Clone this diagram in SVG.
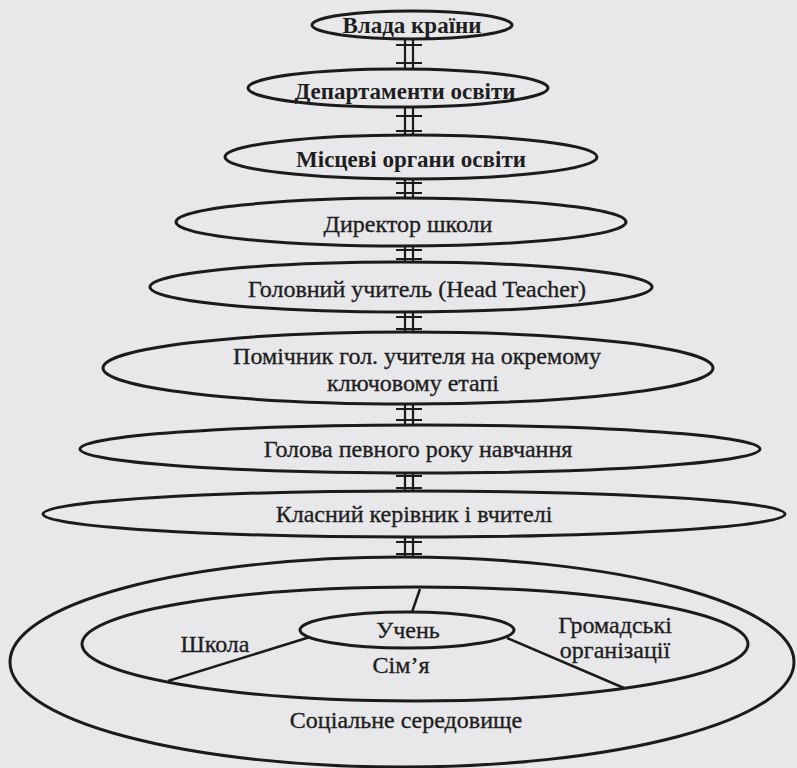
<svg xmlns="http://www.w3.org/2000/svg" width="797" height="768" viewBox="0 0 797 768">
<style>
.e{fill:none;stroke:#1b1b1b;stroke-width:3}
.t{font-family:"Liberation Serif","Times New Roman",serif;font-size:24px;fill:#1e1e1e;stroke:#1e1e1e;stroke-width:0.35;text-anchor:middle}
.b{font-weight:bold;font-size:23px;stroke-width:0}
.c{fill:none;stroke:#1b1b1b;stroke-width:2.2}
.l{fill:none;stroke:#1b1b1b;stroke-width:2.5}
</style>
<rect width="797" height="768" fill="#e8e8ea"/>
<g id="connectors">
<path class="c" d="M405,39V68M413,39V68M396,45H422M396,63H422"/>
<path class="c" d="M405,108V136M413,108V136M396,116H422M396,131H422"/>
<path class="c" d="M405,179V197M413,179V197M396,183H422M396,193H422"/>
<path class="c" d="M405,246V263M413,246V263M396,250H422M396,259H422"/>
<path class="c" d="M405,313V333M413,313V333M396,317H422M396,329H422"/>
<path class="c" d="M405,404V425M413,404V425M396,409H422M396,420H422"/>
<path class="c" d="M405,472V492M413,472V492M396,476H422M396,488H422"/>
<path class="c" d="M405,537V558M413,537V558M396,542H422M396,554H422"/>
</g>
<g id="n1"><ellipse class="e" cx="412" cy="25" rx="100" ry="14"/><text class="t b" x="412" y="33">Влада країни</text></g>
<g id="n2"><ellipse class="e" cx="398" cy="88" rx="150" ry="19"/><text class="t b" x="405" y="99">Департаменти освіти</text></g>
<g id="n3"><ellipse class="e" cx="411" cy="157" rx="186" ry="22"/><text class="t b" x="411" y="167">Місцеві органи освіти</text></g>
<g id="n4"><ellipse class="e" cx="401" cy="222" rx="225" ry="24"/><text class="t" x="408" y="232">Директор школи</text></g>
<g id="n5"><ellipse class="e" cx="401" cy="287" rx="251" ry="25"/><text class="t" x="417" y="297">Головний учитель (Head Teacher)</text></g>
<g id="n6"><ellipse class="e" cx="408" cy="368" rx="305" ry="36"/><text class="t" x="417" y="364">Помічник гол. учителя на окремому</text><text class="t" x="413" y="391">ключовому етапі</text></g>
<g id="n7"><ellipse class="e" cx="420" cy="449" rx="340" ry="24"/><text class="t" x="418" y="457">Голова певного року навчання</text></g>
<g id="n8"><ellipse class="e" cx="414" cy="514" rx="371" ry="23"/><text class="t" x="414" y="522">Класний керівник і вчителі</text></g>
<g id="social"><ellipse class="e" cx="402" cy="662" rx="392" ry="105"/><text class="t" x="406" y="728">Соціальне середовище</text></g>
<g id="family"><ellipse class="e" cx="415" cy="644" rx="333" ry="57"/><text class="t" x="401" y="673">Сім’я</text></g>
<g id="pupil"><ellipse class="e" cx="407" cy="630" rx="107" ry="18"/><text class="t" x="408" y="638">Учень</text></g>
<g id="school"><text class="t" x="215" y="652">Школа</text></g>
<g id="public"><text class="t" x="615" y="633">Громадські</text><text class="t" x="615" y="658">організації</text></g>
<g id="dividers">
<path class="l" d="M310,637L168,681"/>
<path class="l" d="M507,638L624,688"/>
<path class="l" d="M420,589L412,612"/>
</g>
</svg>
